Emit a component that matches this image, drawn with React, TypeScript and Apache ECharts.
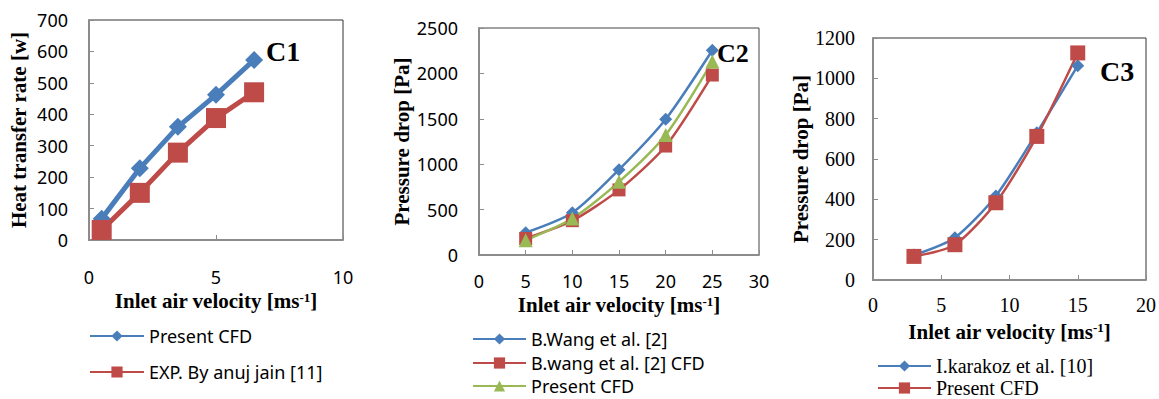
import React, { useEffect, useRef } from "react";
import * as echarts from "echarts";

// ---- Data ----
const c1Velocity = [0.5, 2, 3.5, 5, 6.5];
const c1PresentCFD = [68, 228, 360, 462, 573];
const c1ExpJain = [32, 150, 278, 388, 470];

const c2Velocity = [5, 10, 15, 20, 25];
const c2WangExp = [246, 465, 940, 1495, 2255];
const c2WangCFD = [182, 378, 717, 1200, 1982];
const c2PresentCFD = [163, 402, 806, 1322, 2130];

const c3Velocity = [3, 6, 9, 12, 15];
const c3Karakoz = [124, 210, 417, 730, 1063];
const c3PresentCFD = [117, 175, 383, 712, 1126];

const legendLabels: Record<string, string> = {
  c1p: "Present CFD",
  c1e: "EXP. By anuj jain [11]",
  c2w: "B.Wang et al. [2]",
  c2c: "B.wang et al. [2] CFD",
  c2p: "Present CFD",
  c3k: "I.karakoz et al. [10]",
  c3p: "Present CFD",
};

const BLUE = "#4A7EBB";
const RED = "#BE4B48";
const GREEN = "#98B954";

const SANS = "Noto Sans";
const SERIF = "Liberation Serif";

const zip = (xs: number[], ys: number[]) => xs.map((x, i) => [x, ys[i]]);

function xAxisCfg(gridIndex: number, min: number, max: number, interval: number, font: string, fontSize: number, margin: number, nameGap: number) {
  return {
    type: "value",
    gridIndex,
    min,
    max,
    interval,
    axisLine: { show: true, lineStyle: { color: "#8c8c8c", width: 2 } },
    axisTick: { show: true, inside: true, length: 5, lineStyle: { color: "#8c8c8c", width: 1 } },
    splitLine: { show: false },
    axisLabel: { fontFamily: font, fontSize, color: "#000", margin, formatter: (v: number) => String(v) },
    name: "Inlet air velocity [ms{sup|-1}]",
    nameLocation: "middle",
    nameGap,
    nameTextStyle: {
      fontFamily: SERIF,
      fontWeight: "bold",
      fontSize: 21,
      color: "#000",
      rich: {
        sup: { fontFamily: SERIF, fontWeight: "bold", fontSize: 13, verticalAlign: "top", color: "#000", padding: [0, 0, 8, 0] },
      },
    },
  };
}

function yAxisCfg(gridIndex: number, min: number, max: number, interval: number, font: string, fontSize: number, margin: number, name: string, nameGap: number) {
  return {
    type: "value",
    gridIndex,
    min,
    max,
    interval,
    axisLine: { show: true, lineStyle: { color: "#8c8c8c", width: 2 } },
    axisTick: { show: true, inside: true, length: 5, lineStyle: { color: "#8c8c8c", width: 1 } },
    splitLine: { show: false },
    axisLabel: { fontFamily: font, fontSize, color: "#000", margin, formatter: (v: number) => String(v) },
    name,
    nameLocation: "middle",
    nameGap,
    nameTextStyle: { fontFamily: SERIF, fontWeight: "bold", fontSize: 21, color: "#000" },
  };
}

function legendItem(name: string, left: number, centerY: number, font: string, fontSize: number) {
  return {
    orient: "horizontal",
    left,
    top: centerY - 7,
    padding: 0,
    itemWidth: 53,
    itemHeight: 14,
    data: [name],
    formatter: (n: string) => legendLabels[n],
    textStyle: { fontFamily: font, fontSize, color: "#000", lineHeight: 14 },
  };
}

export default function App() {
  const ref = useRef<HTMLDivElement>(null);

  useEffect(() => {
    if (!ref.current) return;
    const chart = echarts.init(ref.current, undefined, { renderer: "svg" });
    const option: any = {
      animation: false,
      backgroundColor: "#fff",
      grid: [
        { left: 89, top: 20, width: 254, height: 220, show: true, borderColor: "#333", borderWidth: 1 },
        { left: 479, top: 28, width: 280, height: 227, show: true, borderColor: "#444", borderWidth: 1 },
        { left: 873, top: 38, width: 273, height: 242, show: true, borderColor: "#333", borderWidth: 1 },
      ],
      xAxis: [
        xAxisCfg(0, 0, 10, 5, SANS, 18, 28, 50),
        xAxisCfg(1, 0, 30, 5, SANS, 18, 17, 39),
        xAxisCfg(2, 0, 20, 5, SERIF, 20, 15, 41),
      ],
      yAxis: [
        yAxisCfg(0, 0, 700, 100, SANS, 18, 21, "Heat transfer rate [w]", 60),
        yAxisCfg(1, 0, 2500, 500, SANS, 18, 21, "Pressure drop [Pa]", 66),
        yAxisCfg(2, 0, 1200, 200, SERIF, 20, 18, "Pressure drop [Pa]", 57),
      ],
      legend: [
        { ...legendItem("c1p", 89, 334, SANS, 18), itemWidth: 54 },
        { ...legendItem("c1e", 89, 370, SANS, 18), itemWidth: 54 },
        legendItem("c2w", 472, 337, SANS, 18),
        legendItem("c2c", 472, 361, SANS, 18),
        legendItem("c2p", 472, 384, SANS, 18),
        legendItem("c3k", 877, 363, SERIF, 20),
        legendItem("c3p", 877, 385, SERIF, 20),
      ],
      series: [
        {
          name: "c1p", type: "line", xAxisIndex: 0, yAxisIndex: 0, data: zip(c1Velocity, c1PresentCFD),
          symbol: "diamond", symbolSize: 18, color: BLUE, lineStyle: { width: 5, color: BLUE }, itemStyle: { color: BLUE },
        },
        {
          name: "c1e", type: "line", xAxisIndex: 0, yAxisIndex: 0, data: zip(c1Velocity, c1ExpJain),
          symbol: "rect", symbolSize: 20, color: RED, lineStyle: { width: 5, color: RED }, itemStyle: { color: RED },
        },
        {
          name: "c2w", type: "line", xAxisIndex: 1, yAxisIndex: 1, data: zip(c2Velocity, c2WangExp), smooth: 0.25,
          symbol: "diamond", symbolSize: 13, color: BLUE, lineStyle: { width: 2.5, color: BLUE }, itemStyle: { color: BLUE },
        },
        {
          name: "c2c", type: "line", xAxisIndex: 1, yAxisIndex: 1, data: zip(c2Velocity, c2WangCFD), smooth: 0.25,
          symbol: "rect", symbolSize: 13, color: RED, lineStyle: { width: 2.5, color: RED }, itemStyle: { color: RED },
        },
        {
          name: "c2p", type: "line", xAxisIndex: 1, yAxisIndex: 1, data: zip(c2Velocity, c2PresentCFD), smooth: 0.25,
          symbol: "triangle", symbolSize: 14, color: GREEN, lineStyle: { width: 2.5, color: GREEN }, itemStyle: { color: GREEN },
        },
        {
          name: "c3k", type: "line", xAxisIndex: 2, yAxisIndex: 2, data: zip(c3Velocity, c3Karakoz), smooth: 0.25,
          symbol: "diamond", symbolSize: 13, color: BLUE, lineStyle: { width: 2.5, color: BLUE }, itemStyle: { color: BLUE },
        },
        {
          name: "c3p", type: "line", xAxisIndex: 2, yAxisIndex: 2, data: zip(c3Velocity, c3PresentCFD), smooth: 0.25,
          symbol: "rect", symbolSize: 15, color: RED, lineStyle: { width: 2.5, color: RED }, itemStyle: { color: RED },
        },
      ],
      graphic: [
        { type: "text", left: 266, top: 37, style: { text: "C1", fontFamily: SERIF, fontWeight: "bold", fontSize: 28, fill: "#000" } },
        { type: "text", left: 717, top: 40, style: { text: "C2", fontFamily: SERIF, fontWeight: "bold", fontSize: 26, fill: "#000" } },
        { type: "text", left: 1100, top: 57, style: { text: "C3", fontFamily: SERIF, fontWeight: "bold", fontSize: 28, fill: "#000" } },
      ],
    };
    chart.setOption(option);
    return () => chart.dispose();
  }, []);

  return (
    <div
      ref={ref}
      style={{ position: "fixed", left: 0, top: 0, width: 1159, height: 399, background: "#fff" }}
    />
  );
}
